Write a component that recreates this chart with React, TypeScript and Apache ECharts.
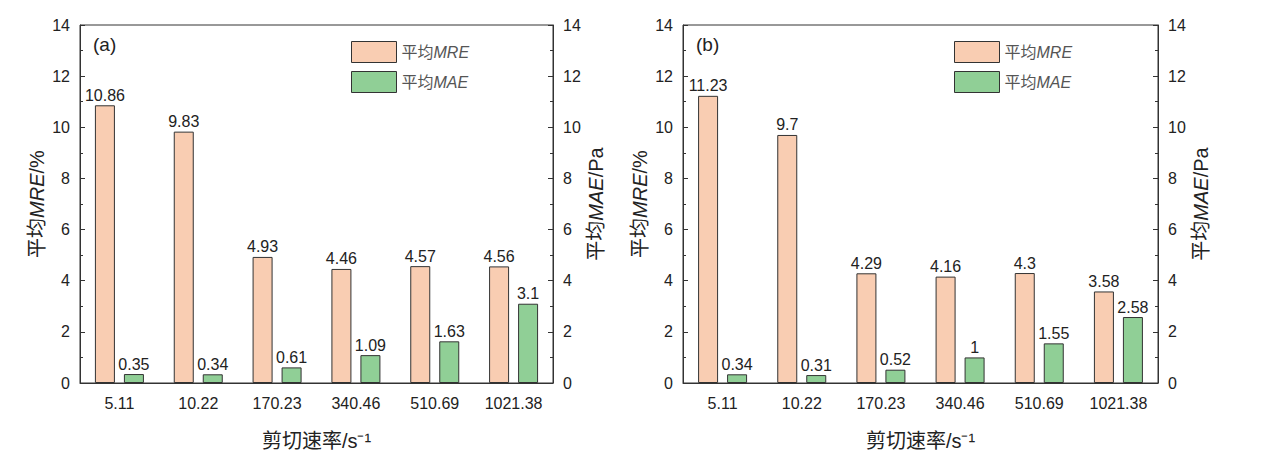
import { useEffect, useRef } from "react";
import * as echarts from "echarts";

const categories = ["5.11", "10.22", "170.23", "340.46", "510.69", "1021.38"];
const mreA = [10.86, 9.83, 4.93, 4.46, 4.57, 4.56];
const maeA = [0.35, 0.34, 0.61, 1.09, 1.63, 3.1];
const mreB = [11.23, 9.7, 4.29, 4.16, 4.3, 3.58];
const maeB = [0.34, 0.31, 0.52, 1, 1.55, 2.58];
const panels = ["(a)", "(b)"];

const FONT = "Liberation Sans, Arial, Noto Sans CJK SC, sans-serif";
const MRE_COLOR = "#f9cdb2";
const MAE_COLOR = "#90cf96";
const LINE = "#333";

const grids = [
  { left: 80, right: 715 },
  { left: 683, right: 110 },
];

export default function App() {
  const chartRef = useRef<HTMLDivElement>(null);

  useEffect(() => {
    if (!chartRef.current) return;
    const chart = echarts.init(chartRef.current, null, { renderer: "svg" });

    const valueAxis = (gridIndex: number, position: "left" | "right", name: string) => ({
      type: "value" as const,
      gridIndex,
      position,
      min: 0,
      max: 14,
      interval: 2,
      name,
      nameLocation: "middle" as const,
      nameGap: 33,
      nameTextStyle: {
        fontSize: 20,
        color: "#222",
        fontFamily: FONT,
        rich: {
          n: { fontSize: 20, fontFamily: FONT, color: "#222" },
          i: { fontSize: 20, fontFamily: FONT, color: "#222", fontStyle: "italic" as const },
        },
      },
      axisLine: { show: true, lineStyle: { color: LINE, width: 1 } },
      axisTick: { show: true, inside: true, length: 5, lineStyle: { color: LINE } },
      minorTick: { show: true, splitNumber: 2, length: 3, lineStyle: { color: LINE } },
      axisLabel: { color: "#222", fontSize: 16, fontFamily: FONT, margin: 10 },
      splitLine: { show: false },
    });

    const barLabel = {
      show: true,
      position: "top" as const,
      distance: 2,
      color: "#222",
      fontSize: 16,
      fontFamily: FONT,
    };

    const datasets = [
      [mreA, maeA],
      [mreB, maeB],
    ];

    const option: echarts.EChartsOption = {
      animation: false,
      textStyle: { fontFamily: FONT },
      grid: grids.map((g) => ({
        left: g.left,
        right: g.right,
        top: 25,
        bottom: 71,
        show: true,
        borderColor: LINE,
        borderWidth: 1,
        backgroundColor: "transparent",
      })),
      legend: grids.map((g, i) => ({
        orient: "vertical" as const,
        left: g.left + 266,
        top: 36,
        icon: "rect",
        itemWidth: 45,
        itemHeight: 21,
        itemGap: 8,
        itemStyle: { borderColor: LINE, borderWidth: 1 },
        textStyle: {
          fontSize: 16,
          color: "#222",
          rich: {
            n: { fontSize: 16, fontFamily: FONT, color: "#555" },
            i: { fontSize: 16, fontFamily: FONT, color: "#555", fontStyle: "italic" as const },
          },
        },
        formatter: (name: string) =>
          `{n|平均}{i|${name.replace(/\d/g, "")}}`,
        data: [`MRE${i}`, `MAE${i}`],
      })),
      xAxis: grids.map((_, i) => ({
        type: "category" as const,
        gridIndex: i,
        data: categories,
        name: "剪切速率/s⁻¹",
        nameLocation: "middle" as const,
        nameGap: 48,
        nameTextStyle: { fontSize: 20, color: "#222", fontFamily: FONT },
        axisLine: { lineStyle: { color: LINE } },
        axisTick: { show: false },
        axisLabel: { color: "#222", fontSize: 16, fontFamily: FONT, margin: 12 },
      })),
      yAxis: grids.flatMap((_, i) => [
        valueAxis(i, "left", "{n|平均}{i|MRE}{n|/%}"),
        valueAxis(i, "right", "{n|平均}{i|MAE}{n|/Pa}"),
      ]),
      series: datasets.flatMap(([mre, mae], i) => [
        {
          name: `MRE${i}`,
          type: "bar" as const,
          xAxisIndex: i,
          yAxisIndex: i * 2,
          data: mre,
          barWidth: 20,
          barGap: "45%",
          itemStyle: { color: MRE_COLOR, borderColor: LINE, borderWidth: 1 },
          label: barLabel,
        },
        {
          name: `MAE${i}`,
          type: "bar" as const,
          xAxisIndex: i,
          yAxisIndex: i * 2 + 1,
          data: mae,
          barWidth: 20,
          barGap: "45%",
          itemStyle: { color: MAE_COLOR, borderColor: LINE, borderWidth: 1 },
          label: barLabel,
        },
      ]),
      graphic: grids.map((g, i) => ({
        type: "text" as const,
        left: g.left + 13,
        top: 35,
        style: { text: panels[i], fontSize: 19, fill: "#222", fontFamily: FONT },
      })),
    };

    chart.setOption(option);
    return () => chart.dispose();
  }, []);

  return (
    <div
      ref={chartRef}
      style={{ position: "absolute", left: 0, top: 0, width: 1268, height: 456, background: "#fff" }}
    />
  );
}
